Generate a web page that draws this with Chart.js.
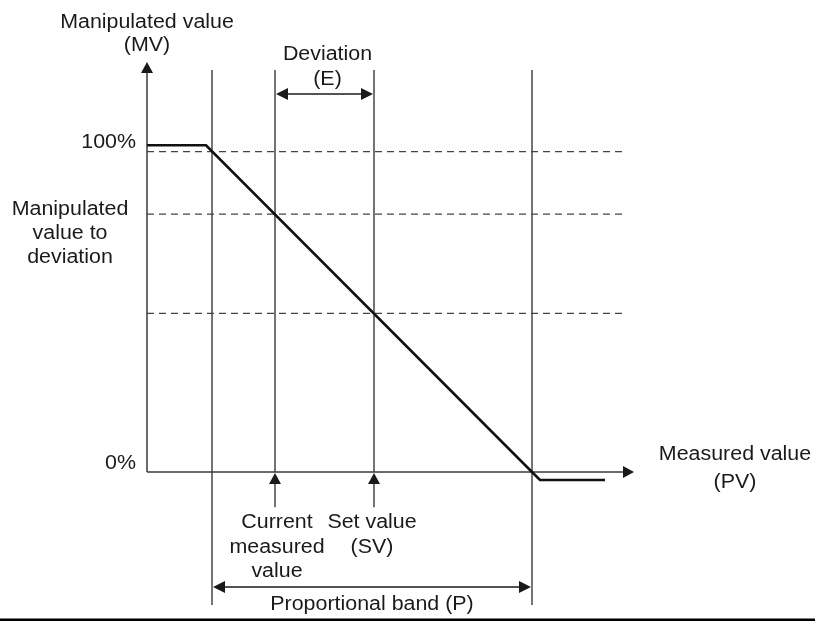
<!DOCTYPE html>
<html>
<head>
<meta charset="utf-8">
<title>Proportional action</title>
<script src="https://cdn.jsdelivr.net/npm/chart.js@4/dist/chart.umd.min.js"></script>
<style>
  html, body { margin: 0; padding: 0; background: #fff; }
  canvas { display: block; }
</style>
</head>
<body>
<canvas id="chart" width="817" height="621"></canvas>
<script>
// schematic values (PV in arbitrary units, MV in %)
const curvePV = [0, 14.75, 96.25, 98.25, 114.5];
const curveMV = [102, 102, 0, -2.5, -2.5];
const levelMV = [100, 80.5, 49.5];          // 100%, MV to deviation, MV at SV
const bandPV = [16.25, 96.25];               // proportional band edges
const currentPV = 32;                        // current measured value
const setPV = 56.75;                         // set value (SV)
const tickMV = [100, 0];
const tickLabels = ["100%", "0%"];

// drawing extents (in scale units)
const pvMax = 130, mvMax = 128;
const axisTipPV = 121.75;
const levelEndPV = 118.75;
const guideTopMV = 125.5;
const bandBottomMV = -41.5;
const markerBottomMV = -11;

const ink = "#3a3a3a";
const textInk = "#1a1a1a";
const FONT = '20px "Liberation Sans", Arial, sans-serif';
const STRETCH = 1.07;

const seg = (x1, y1, x2, y2) => [{ x: x1, y: y1 }, { x: x2, y: y2 }];

const datasets = [
  {
    label: "MV",
    data: curvePV.map((x, i) => ({ x: x, y: curveMV[i] })),
    borderColor: "#111",
    borderWidth: 2.6,
  },
];
for (let i = 0; i < levelMV.length; i++) {
  datasets.push({
    label: "level" + i,
    data: seg(0, levelMV[i], levelEndPV, levelMV[i]),
    borderColor: "#444",
    borderWidth: 1.2,
    borderDash: [7, 5],
  });
}
for (let x of bandPV) {
  datasets.push({ label: "band", data: seg(x, guideTopMV, x, bandBottomMV), borderColor: ink, borderWidth: 1.4 });
}
for (let x of [currentPV, setPV]) {
  datasets.push({ label: "guide", data: seg(x, guideTopMV, x, 0), borderColor: ink, borderWidth: 1.4 });
  datasets.push({ label: "marker", data: seg(x, -3, x, markerBottomMV), borderColor: ink, borderWidth: 1.4 });
}
// axes
datasets.push({ label: "xAxis", data: seg(0, 0, axisTipPV - 2, 0), borderColor: ink, borderWidth: 1.5 });
datasets.push({ label: "yAxis", data: seg(0, 0, 0, mvMax - 2), borderColor: ink, borderWidth: 1.5 });

datasets.forEach((d) => {
  d.showLine = true;
  d.pointRadius = 0;
  d.fill = false;
  d.clip = false;
  d.tension = 0;
});

function arrowHead(ctx, x, y, dir, len, half) {
  // dir: "up", "right", "left" — tip at (x, y)
  ctx.beginPath();
  ctx.moveTo(x, y);
  if (dir === "up") { ctx.lineTo(x - half, y + len); ctx.lineTo(x + half, y + len); }
  if (dir === "right") { ctx.lineTo(x - len, y - half); ctx.lineTo(x - len, y + half); }
  if (dir === "left") { ctx.lineTo(x + len, y - half); ctx.lineTo(x + len, y + half); }
  ctx.closePath();
  ctx.fill();
}

function text(ctx, str, x, y, align) {
  ctx.save();
  ctx.translate(x, y);
  ctx.scale(STRETCH, 1);
  ctx.textAlign = align || "center";
  ctx.fillText(str, 0, 0);
  ctx.restore();
}

const decor = {
  id: "decor",
  beforeDraw(chart) {
    const ctx = chart.ctx;
    ctx.save();
    ctx.fillStyle = "#fff";
    ctx.fillRect(0, 0, chart.width, chart.height);
    ctx.restore();
  },
  afterDatasetsDraw(chart) {
    const ctx = chart.ctx;
    const xs = chart.scales.x, ys = chart.scales.y;
    const px = (v) => xs.getPixelForValue(v);
    const py = (v) => ys.getPixelForValue(v);
    ctx.save();
    ctx.fillStyle = "#1a1a1a";
    ctx.strokeStyle = "#1a1a1a";
    ctx.lineWidth = 1.5;

    // axis arrows
    arrowHead(ctx, px(0), py(mvMax), "up", 11, 6);
    arrowHead(ctx, px(axisTipPV), py(0), "right", 11, 6);

    // markers under the axis
    arrowHead(ctx, px(currentPV), py(0) + 1, "up", 11, 6);
    arrowHead(ctx, px(setPV), py(0) + 1, "up", 11, 6);

    // deviation arrow
    const ey = 94;
    ctx.beginPath();
    ctx.moveTo(px(currentPV) + 6, ey);
    ctx.lineTo(px(setPV) - 6, ey);
    ctx.stroke();
    arrowHead(ctx, px(currentPV) + 1, ey, "left", 12, 6);
    arrowHead(ctx, px(setPV) - 1, ey, "right", 12, 6);

    // proportional band arrow
    const by = 587;
    ctx.beginPath();
    ctx.moveTo(px(bandPV[0]) + 6, by);
    ctx.lineTo(px(bandPV[1]) - 6, by);
    ctx.stroke();
    arrowHead(ctx, px(bandPV[0]) + 1, by, "left", 12, 6);
    arrowHead(ctx, px(bandPV[1]) - 1, by, "right", 12, 6);

    // bottom rule
    ctx.fillStyle = "#000";
    ctx.fillRect(0, 618.5, 815, 2.5);

    // labels
    ctx.fillStyle = textInk;
    ctx.font = FONT;
    ctx.textBaseline = "alphabetic";
    text(ctx, "Manipulated value", px(0), 28);
    text(ctx, "(MV)", px(0), 51);

    const devX = (px(currentPV) + px(setPV)) / 2 + 3;
    text(ctx, "Deviation", devX, 60);
    text(ctx, "(E)", devX, 85);

    for (let i = 0; i < tickMV.length; i++) {
      text(ctx, tickLabels[i], 136, py(tickMV[i]) - 3.5, "right");
    }

    text(ctx, "Manipulated", 70, 215);
    text(ctx, "value to", 70, 239);
    text(ctx, "deviation", 70, 263);

    text(ctx, "Measured value", 735, 460);
    text(ctx, "(PV)", 735, 488);

    text(ctx, "Current", px(currentPV) + 2, 528);
    text(ctx, "measured", px(currentPV) + 2, 553);
    text(ctx, "value", px(currentPV) + 2, 577);

    text(ctx, "Set value", px(setPV) - 2, 528);
    text(ctx, "(SV)", px(setPV) - 2, 553);

    text(ctx, "Proportional band (P)", (px(bandPV[0]) + px(bandPV[1])) / 2, 610);
    ctx.restore();
  },
};

new Chart(document.getElementById("chart"), {
  type: "scatter",
  data: { datasets: datasets },
  options: {
    responsive: false,
    animation: false,
    devicePixelRatio: 1,
    layout: { padding: { left: 147, right: 817 - 147 - pvMax * 4, top: 62, bottom: 149 } },
    plugins: { legend: { display: false }, tooltip: { enabled: false } },
    scales: {
      x: { type: "linear", min: 0, max: pvMax, display: false },
      y: { type: "linear", min: 0, max: mvMax, display: false },
    },
  },
  plugins: [decor],
});
</script>
</body>
</html>
